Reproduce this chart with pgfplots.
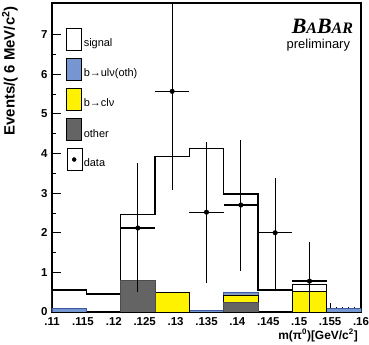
\documentclass[border=0pt]{standalone}
\usepackage{fontspec}
\setmainfont{Liberation Sans}
\setsansfont{Liberation Sans}
\newfontfamily\timesfont{Liberation Serif}
\usepackage{pgfplots}
\pgfplotsset{compat=1.18}
\definecolor{ulnu}{RGB}{118,150,210}
\definecolor{ulnuedge}{RGB}{60,90,160}
\definecolor{othergray}{RGB}{100,100,100}
\begin{document}
\begin{tikzpicture}
\path[use as bounding box] (-52bp,-33bp) rectangle (317bp,312bp);
\begin{axis}[
  at={(0,0)}, anchor=south west,
  scale only axis, width=309bp, height=309bp,
  xmin=0.11, xmax=0.16, ymin=0, ymax=7.8,
  axis line style={line width=1.2bp},
  tick align=inside, xtick pos=lower, ytick pos=left,
  major tick length=9bp, minor tick length=4.5bp,
  every tick/.style={black, line width=0.9bp},
  xtick={0.11,0.115,0.12,0.125,0.13,0.135,0.14,0.145,0.15,0.155,0.16},
  xticklabels={.11,.115,.12,.125,.13,.135,.14,.145,.15,.155,.16},
  minor x tick num=4,
  ytick={0,1,2,3,4,5,6,7},
  minor y tick num=1,
  /pgf/number format/assume math mode=true,
  ticklabel style={font=\bfseries\fontsize{11.5}{12}\selectfont},
  xticklabel style={yshift=-2bp},
  yticklabel style={xshift=-1bp},
  xlabel={m(π\textsuperscript{0})[GeV/c\textsuperscript{2}]},
  xlabel style={font=\bfseries\fontsize{12}{13}\selectfont, at={(rel axis cs:1,0)}, anchor=north east, yshift=-17bp, xshift=-3bp, inner sep=0pt},
  ylabel={Events/( 6 MeV/c\textsuperscript{2})},
  ylabel style={font=\bfseries\fontsize{15}{16}\selectfont, at={(rel axis cs:-0.136,0.99)}, anchor=east, inner sep=0pt},
  legend cell align=left,
  legend style={draw=none, fill=none, at={(rel axis cs:0.045,0.92)}, anchor=north west,
    font=\fontsize{11}{12}\selectfont, row sep=6.9bp, inner sep=0pt,
    nodes={inner sep=1.5bp}},
]
% total: signal on top of everything
\addplot[const plot, fill=white, draw=black, line width=1.4bp,
  legend image code/.code={\draw[fill=white,draw=black,line width=1.2bp] (0bp,-7bp) rectangle (15bp,15bp);}]
  coordinates {(0.110000,0.56) (0.115556,0.45) (0.121111,2.46) (0.126667,3.93) (0.132222,4.12)
               (0.137778,2.98) (0.143333,0.56) (0.148889,0.70) (0.154444,0.08) (0.160000,0.08)} \closedcycle;
\addlegendentry{signal}
% b -> u l nu (oth), cumulative
\addplot[const plot, fill=ulnu, draw=ulnuedge, line width=0.8bp,
  legend image code/.code={\draw[fill=ulnu,draw=black,line width=1.2bp] (0bp,-7bp) rectangle (15bp,15bp);}]
  coordinates {(0.110000,0.10) (0.115556,0.00) (0.121111,0.80) (0.126667,0.50) (0.132222,0.05)
               (0.137778,0.49) (0.143333,0.00) (0.148889,0.53) (0.154444,0.08) (0.160000,0.08)} \closedcycle;
\addlegendentry{b→ulν(oth)}
% b -> c l nu, cumulative
\addplot[const plot, fill=yellow, draw=black, line width=0.8bp,
  legend image code/.code={\draw[fill=yellow,draw=black,line width=1.2bp] (0bp,-7bp) rectangle (15bp,15bp);}]
  coordinates {(0.110000,0.00) (0.115556,0.00) (0.121111,0.80) (0.126667,0.50) (0.132222,0.00)
               (0.137778,0.43) (0.143333,0.00) (0.148889,0.51) (0.154444,0.00) (0.160000,0.00)} \closedcycle;
\addlegendentry{b→clν}
% other
\addplot[const plot, fill=othergray, draw=black!70, line width=0.8bp,
  legend image code/.code={\draw[fill=othergray,draw=black,line width=1.2bp] (0bp,-7bp) rectangle (15bp,15bp);}]
  coordinates {(0.110000,0.00) (0.115556,0.00) (0.121111,0.80) (0.126667,0.00) (0.132222,0.00)
               (0.137778,0.25) (0.143333,0.00) (0.148889,0.00) (0.154444,0.00) (0.160000,0.00)} \closedcycle;
\addlegendentry{other}
% data
\addplot[only marks, mark=*, mark size=2.3bp, black,
  error bars/.cd, x dir=both, x explicit, y dir=both, y explicit,
  error mark=none, error bar style={line width=1.3bp, black},
  /pgfplots/legend image code/.code={\path (0bp,-7bp) rectangle (15bp,15bp); \fill (7.5bp,4bp) circle (2bp);}]
  table[x=x, y=y, x error=ex, y error plus=ep, y error minus=em] {
  x        y     ex        ep    em
  0.123889 2.12  0.002778  1.63  1.62
  0.129444 5.57  0.002778  2.50  2.48
  0.135000 2.52  0.002778  1.77  1.78
  0.140556 2.70  0.002778  1.65  1.66
  0.146111 2.00  0.002778  1.38  1.43
  0.151667 0.78  0.002778  0.99  0.78
  };
\addlegendentry{data}
\node[font=\timesfont\bfseries\itshape\fontsize{22}{22}\selectfont, inner sep=0pt]
  at (rel axis cs:0.875,0.925) {B{\fontsize{16}{16}\selectfont A}B{\fontsize{16}{16}\selectfont AR}};
\node[font=\fontsize{13}{14}\selectfont, inner sep=0pt] at (rel axis cs:0.862,0.865) {preliminary};
\end{axis}
\end{tikzpicture}
\end{document}
